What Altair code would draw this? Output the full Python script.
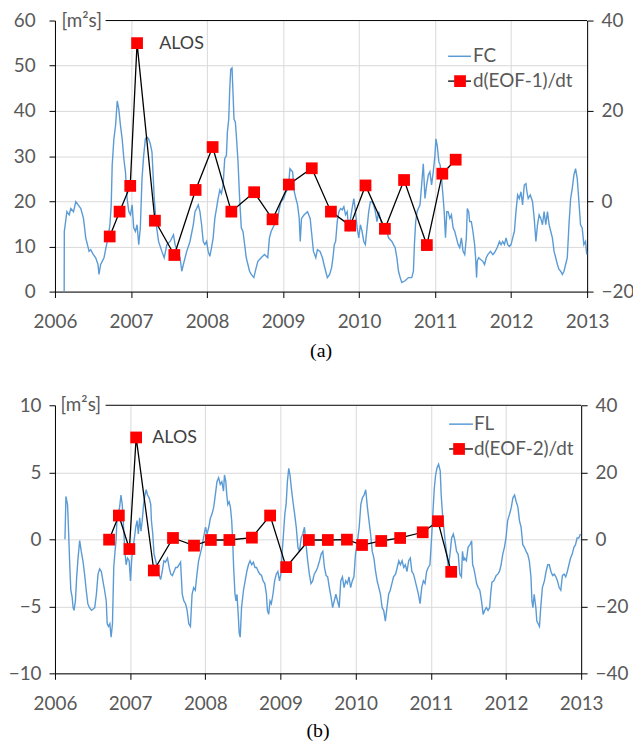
import altair as alt
import pandas as pd

# ---------------- data ----------------
year_ticks = [2006, 2007, 2008, 2009, 2010, 2011, 2012, 2013]

fc_year = [2006.121, 2006.123, 2006.157, 2006.187, 2006.209, 2006.244, 2006.274, 2006.305, 2006.340, 2006.375,
           2006.405, 2006.427, 2006.449, 2006.470, 2006.505, 2006.536, 2006.566, 2006.579, 2006.601, 2006.645,
           2006.679, 2006.697, 2006.723, 2006.740, 2006.753, 2006.775, 2006.797, 2006.819, 2006.840, 2006.862,
           2006.884, 2006.906, 2006.927, 2006.949, 2006.971, 2006.993, 2007.015, 2007.036, 2007.058, 2007.080,
           2007.102, 2007.123, 2007.145, 2007.167, 2007.189, 2007.210, 2007.232, 2007.254, 2007.276, 2007.289,
           2007.306, 2007.332, 2007.363, 2007.406, 2007.437, 2007.472, 2007.515, 2007.559, 2007.580, 2007.611,
           2007.646, 2007.668, 2007.689, 2007.733, 2007.776, 2007.820, 2007.842, 2007.863, 2007.885, 2007.907,
           2007.929, 2007.950, 2007.972, 2007.994, 2008.016, 2008.037, 2008.059, 2008.081, 2008.103, 2008.125,
           2008.146, 2008.168, 2008.190, 2008.212, 2008.233, 2008.255, 2008.268, 2008.286, 2008.299, 2008.312,
           2008.329, 2008.342, 2008.355, 2008.373, 2008.386, 2008.408, 2008.429, 2008.451, 2008.473, 2008.495,
           2008.516, 2008.538, 2008.560, 2008.582, 2008.616, 2008.647, 2008.669, 2008.712, 2008.756, 2008.799,
           2008.821, 2008.843, 2008.886, 2008.921, 2008.952, 2008.973, 2009.008, 2009.039, 2009.069, 2009.091,
           2009.126, 2009.148, 2009.169, 2009.191, 2009.213, 2009.226, 2009.243, 2009.278, 2009.322, 2009.357,
           2009.374, 2009.400, 2009.431, 2009.452, 2009.487, 2009.518, 2009.539, 2009.561, 2009.583, 2009.613,
           2009.639, 2009.657, 2009.674, 2009.692, 2009.713, 2009.735, 2009.757, 2009.779, 2009.800, 2009.822,
           2009.844, 2009.866, 2009.888, 2009.909, 2009.931, 2009.953, 2009.975, 2009.996, 2010.018, 2010.040,
           2010.062, 2010.083, 2010.105, 2010.127, 2010.149, 2010.170, 2010.192, 2010.214, 2010.236, 2010.258,
           2010.279, 2010.301, 2010.323, 2010.345, 2010.366, 2010.388, 2010.432, 2010.453, 2010.475, 2010.497,
           2010.519, 2010.541, 2010.562, 2010.606, 2010.649, 2010.693, 2010.715, 2010.728, 2010.745, 2010.763,
           2010.780, 2010.802, 2010.823, 2010.845, 2010.867, 2010.889, 2010.911, 2010.932, 2010.954, 2010.976,
           2010.998, 2011.011, 2011.028, 2011.050, 2011.067, 2011.085, 2011.107, 2011.120, 2011.137, 2011.154,
           2011.172, 2011.194, 2011.215, 2011.237, 2011.259, 2011.303, 2011.324, 2011.346, 2011.368, 2011.390,
           2011.411, 2011.424, 2011.442, 2011.455, 2011.477, 2011.498, 2011.520, 2011.533, 2011.546, 2011.555,
           2011.572, 2011.599, 2011.629, 2011.651, 2011.673, 2011.694, 2011.729, 2011.760, 2011.781, 2011.816,
           2011.847, 2011.868, 2011.890, 2011.912, 2011.934, 2011.956, 2011.977, 2011.999, 2012.021, 2012.043,
           2012.064, 2012.086, 2012.108, 2012.130, 2012.151, 2012.173, 2012.195, 2012.208, 2012.225, 2012.252,
           2012.282, 2012.304, 2012.326, 2012.347, 2012.369, 2012.391, 2012.413, 2012.434, 2012.456, 2012.478,
           2012.500, 2012.522, 2012.543, 2012.565, 2012.587, 2012.609, 2012.630, 2012.652, 2012.674, 2012.696,
           2012.717, 2012.739, 2012.761, 2012.783, 2012.804, 2012.826, 2012.848, 2012.870, 2012.892, 2012.913,
           2012.935, 2012.957, 2012.979, 2012.995]
fc_value = [0.0, 13.3, 17.7, 17.0, 18.4, 17.7, 19.9, 19.2, 18.4, 16.2,
            11.9, 10.4, 8.9, 9.3, 8.2, 7.5, 6.0, 3.8, 6.0, 7.5,
            10.4, 11.9, 14.8, 19.2, 28.0, 33.8, 36.7, 42.2, 40.4, 36.7,
            33.8, 29.4, 26.5, 20.6, 17.7, 17.0, 19.2, 14.1, 13.3, 14.8,
            10.4, 14.1, 25.0, 30.1, 33.8, 34.2, 33.8, 32.7, 30.9, 26.5,
            20.6, 14.8, 11.1, 8.9, 7.5, 10.4, 11.1, 12.6, 10.4, 8.9,
            7.5, 4.5, 6.0, 8.9, 11.1, 14.8, 17.7, 18.4, 19.2, 17.7,
            14.8, 11.1, 10.4, 11.1, 8.9, 7.8, 9.7, 11.9, 16.2, 18.4,
            20.6, 22.5, 21.7, 23.6, 29.4, 30.1, 35.3, 38.2, 44.8, 49.2,
            49.5, 44.0, 38.2, 37.5, 34.5, 28.7, 20.6, 14.1, 13.3, 10.4,
            7.5, 6.0, 4.5, 3.8, 3.1, 5.3, 6.7, 7.5, 8.2, 7.5,
            11.9, 13.3, 14.8, 15.5, 18.4, 19.9, 20.6, 22.1, 22.8, 27.2,
            26.5, 22.1, 20.6, 19.2, 16.2, 11.1, 16.2, 17.0, 17.7, 16.2,
            13.3, 8.9, 7.5, 9.3, 8.9, 7.5, 6.0, 4.5, 3.1, 3.8,
            5.3, 7.5, 10.4, 11.1, 15.5, 17.7, 18.4, 18.1, 18.8, 17.0,
            17.7, 13.3, 16.2, 18.4, 20.6, 17.7, 14.1, 11.9, 14.8, 13.3,
            11.1, 10.4, 14.1, 17.7, 19.9, 19.9, 19.2, 17.7, 15.5, 17.7,
            16.2, 14.8, 14.8, 14.1, 13.3, 11.9, 11.1, 10.4, 9.7, 7.5,
            4.5, 3.1, 2.0, 2.4, 3.1, 3.1, 4.5, 10.4, 15.5, 17.7,
            18.4, 19.2, 23.6, 28.3, 20.6, 23.6, 25.8, 26.5, 23.6, 26.5,
            30.1, 33.8, 32.3, 28.7, 28.0, 25.0, 20.6, 17.7, 11.9, 17.7,
            17.7, 16.2, 17.0, 14.1, 13.3, 10.4, 9.7, 11.9, 8.9, 8.2,
            11.9, 18.4, 17.7, 15.5, 15.5, 13.3, 10.4, 7.5, 3.1, 6.7,
            7.5, 7.1, 6.7, 6.0, 7.5, 8.2, 8.9, 8.2, 8.6, 9.7,
            11.1, 10.4, 11.1, 10.4, 11.9, 10.4, 10.0, 10.4, 11.9, 13.3,
            17.7, 21.4, 20.6, 22.1, 19.2, 23.6, 23.9, 22.1, 20.6, 21.4,
            19.9, 16.2, 11.1, 14.8, 17.0, 16.2, 14.8, 17.7, 14.8, 17.7,
            14.8, 13.3, 11.9, 8.9, 7.5, 6.0, 4.9, 4.5, 3.8, 4.5,
            6.0, 7.5, 14.8, 20.6, 22.8, 25.8, 27.2, 25.0, 19.9, 14.8,
            14.1, 10.4, 11.1, 8.2]

fl_year = [2006.133, 2006.146, 2006.167, 2006.176, 2006.198, 2006.211, 2006.228, 2006.241, 2006.254, 2006.272,
           2006.289, 2006.307, 2006.329, 2006.350, 2006.372, 2006.394, 2006.416, 2006.437, 2006.459, 2006.486,
           2006.508, 2006.529, 2006.551, 2006.573, 2006.595, 2006.617, 2006.638, 2006.660, 2006.682, 2006.695,
           2006.712, 2006.730, 2006.747, 2006.765, 2006.782, 2006.799, 2006.812, 2006.825, 2006.843, 2006.860,
           2006.878, 2006.895, 2006.913, 2006.930, 2006.947, 2006.965, 2006.987, 2007.005, 2007.022, 2007.039,
           2007.057, 2007.074, 2007.092, 2007.109, 2007.127, 2007.144, 2007.161, 2007.179, 2007.196, 2007.214,
           2007.231, 2007.253, 2007.274, 2007.283, 2007.301, 2007.318, 2007.340, 2007.362, 2007.383, 2007.405,
           2007.427, 2007.449, 2007.470, 2007.497, 2007.519, 2007.541, 2007.562, 2007.584, 2007.606, 2007.628,
           2007.650, 2007.671, 2007.693, 2007.715, 2007.737, 2007.758, 2007.780, 2007.802, 2007.824, 2007.845,
           2007.867, 2007.889, 2007.911, 2007.932, 2007.954, 2007.976, 2008.003, 2008.024, 2008.046, 2008.068,
           2008.090, 2008.112, 2008.133, 2008.155, 2008.177, 2008.199, 2008.220, 2008.242, 2008.255, 2008.273,
           2008.286, 2008.299, 2008.316, 2008.334, 2008.351, 2008.364, 2008.377, 2008.395, 2008.408, 2008.421,
           2008.438, 2008.451, 2008.464, 2008.482, 2008.508, 2008.530, 2008.552, 2008.574, 2008.595, 2008.617,
           2008.639, 2008.661, 2008.682, 2008.704, 2008.726, 2008.748, 2008.769, 2008.791, 2008.813, 2008.826,
           2008.843, 2008.861, 2008.878, 2008.900, 2008.922, 2008.944, 2008.965, 2008.987, 2009.005, 2009.023,
           2009.040, 2009.058, 2009.075, 2009.092, 2009.110, 2009.127, 2009.145, 2009.166, 2009.188, 2009.210,
           2009.232, 2009.253, 2009.275, 2009.297, 2009.319, 2009.340, 2009.362, 2009.384, 2009.406, 2009.428,
           2009.449, 2009.471, 2009.493, 2009.520, 2009.541, 2009.563, 2009.585, 2009.607, 2009.628, 2009.650,
           2009.672, 2009.694, 2009.715, 2009.737, 2009.759, 2009.781, 2009.802, 2009.824, 2009.846, 2009.868,
           2009.890, 2009.911, 2009.933, 2009.955, 2009.977, 2009.998, 2010.025, 2010.047, 2010.069, 2010.090,
           2010.112, 2010.134, 2010.156, 2010.177, 2010.199, 2010.221, 2010.243, 2010.265, 2010.286, 2010.308,
           2010.330, 2010.352, 2010.373, 2010.395, 2010.417, 2010.439, 2010.460, 2010.482, 2010.504, 2010.531,
           2010.553, 2010.574, 2010.596, 2010.618, 2010.640, 2010.661, 2010.683, 2010.705, 2010.727, 2010.748,
           2010.770, 2010.792, 2010.814, 2010.835, 2010.857, 2010.879, 2010.901, 2010.923, 2010.944, 2010.966,
           2010.988, 2011.010, 2011.029, 2011.046, 2011.064, 2011.081, 2011.103, 2011.125, 2011.138, 2011.155,
           2011.172, 2011.190, 2011.212, 2011.233, 2011.255, 2011.277, 2011.299, 2011.320, 2011.342, 2011.364,
           2011.386, 2011.407, 2011.421, 2011.438, 2011.451, 2011.473, 2011.495, 2011.521, 2011.543, 2011.556,
           2011.569, 2011.587, 2011.609, 2011.630, 2011.652, 2011.674, 2011.696, 2011.717, 2011.739, 2011.761,
           2011.783, 2011.796, 2011.813, 2011.839, 2011.870, 2011.891, 2011.913, 2011.935, 2011.957, 2011.979,
           2012.000, 2012.022, 2012.049, 2012.071, 2012.092, 2012.114, 2012.136, 2012.158, 2012.179, 2012.201,
           2012.223, 2012.245, 2012.267, 2012.288, 2012.310, 2012.332, 2012.345, 2012.358, 2012.375, 2012.397,
           2012.410, 2012.428, 2012.445, 2012.462, 2012.484, 2012.511, 2012.533, 2012.555, 2012.576, 2012.598,
           2012.620, 2012.642, 2012.663, 2012.685, 2012.707, 2012.729, 2012.750, 2012.772, 2012.794, 2012.816,
           2012.837, 2012.859, 2012.881, 2012.903, 2012.925, 2012.946, 2012.968, 2012.990]
fl_value = [0.0, 3.2, 2.6, 1.4, -2.1, -3.8, -4.3, -5.1, -5.3, -4.6,
            -2.8, -1.4, -0.1, -0.9, -1.6, -2.6, -3.8, -4.8, -5.1, -5.3,
            -5.2, -5.1, -4.1, -2.6, -2.2, -2.4, -3.1, -3.8, -4.6, -6.3,
            -6.5, -6.3, -7.3, -6.3, -2.1, -0.9, -0.1, 1.4, 1.9, 2.4,
            3.3, 2.6, 0.9, -0.9, -1.9, -1.4, -1.6, -3.1, -1.4, -0.6,
            0.1, 0.9, 1.4, 0.4, 1.6, 0.6, 1.4, 2.6, 3.3, 3.7,
            3.3, 3.1, 2.6, 1.4, 0.4, -1.1, -1.6, -2.1, -2.6, -3.0,
            -2.4, -1.6, -1.7, -1.4, -2.1, -2.6, -2.7, -2.4, -2.1, -2.1,
            -1.9, -1.7, -4.1, -4.6, -4.8, -5.3, -6.3, -6.5, -4.1, -3.6,
            -3.8, -2.6, -1.6, -1.1, -0.6, 0.1, 0.9, 0.4, 0.9, 1.6,
            1.9, 2.4, 3.3, 4.3, 4.6, 4.1, 4.3, 3.6, 4.8, 4.3,
            3.3, 2.6, 2.8, 2.4, 1.4, -0.1, -2.1, -4.1, -4.6, -4.1,
            -5.6, -7.0, -7.3, -5.1, -3.8, -3.1, -2.4, -1.9, -1.6, -1.9,
            -1.7, -2.1, -2.1, -2.4, -2.6, -2.7, -3.1, -3.3, -4.1, -5.3,
            -5.6, -4.6, -4.8, -4.1, -3.1, -2.6, -2.4, -3.1, -2.6, -0.9,
            0.4, 1.9, 2.6, 4.3, 5.3, 4.8, 3.8, 2.8, 1.9, 0.9,
            -0.6, -0.9, 0.1, 0.4, 0.9, -0.4, -1.6, -2.6, -3.3, -3.1,
            -2.6, -2.4, -2.1, -1.6, -1.1, -0.9, -2.1, -2.7, -2.8, -3.6,
            -4.3, -5.1, -4.6, -4.1, -4.6, -5.1, -3.1, -2.8, -3.6, -3.1,
            -3.3, -2.8, -3.6, -3.1, -2.8, -1.1, -0.1, 0.9, 2.6, 3.1,
            3.3, 3.7, 2.4, 1.4, 0.4, -0.9, -1.4, -2.4, -3.1, -3.6,
            -4.1, -5.1, -5.3, -6.1, -5.1, -4.1, -3.8, -3.3, -2.8, -2.6,
            -2.1, -1.6, -1.9, -1.6, -2.1, -1.9, -2.4, -1.6, -1.4, -2.4,
            -2.6, -3.1, -3.6, -4.1, -4.8, -3.6, -3.1, -3.3, -2.4, -2.1,
            -1.9, 0.1, 2.1, 3.8, 4.8, 5.3, 5.6, 5.1, 3.3, 1.9,
            0.9, -0.1, -1.1, -2.1, -1.1, 0.1, 0.4, -0.1, -0.9, -1.1,
            -2.6, -2.8, -0.9, -1.6, -1.4, -1.6, -0.6, -0.4, -0.1, -1.9,
            -2.1, -2.6, -3.3, -3.6, -3.8, -4.6, -5.6, -5.3, -5.1, -5.3,
            -5.1, -4.1, -3.2, -3.1, -2.7, -2.6, -2.4, -1.9, -1.1, -0.6,
            0.1, 1.4, 1.9, 2.4, 3.1, 3.3, 2.8, 2.4, 1.4, 0.9,
            -0.4, -0.6, -0.9, -1.1, -1.6, -2.8, -4.6, -5.1, -4.1, -5.1,
            -6.1, -6.3, -6.5, -5.1, -3.6, -3.1, -2.4, -1.9, -1.9, -2.4,
            -2.7, -2.6, -2.8, -3.1, -3.6, -3.8, -2.7, -2.6, -2.8, -2.4,
            -1.9, -1.4, -1.1, -0.6, -0.4, 0.1, 0.1, 0.4]

alos_year = [2006.72, 2006.85, 2006.99, 2007.08, 2007.315, 2007.57, 2007.85, 2008.074, 2008.32, 2008.62,
             2008.862, 2009.076, 2009.378, 2009.63, 2009.884, 2010.085, 2010.34, 2010.592, 2010.892, 2011.095,
             2011.271]
eof1_rate = [-7.8, -2.3, 3.4, 35.0, -4.3, -11.9, 2.5, 12.0, -2.3, 2.0,
             -4.0, 3.7, 7.3, -2.3, -5.4, 3.5, -6.1, 4.7, -9.7, 6.1, 9.2]
eof2_rate = [-0.1, 7.1, -2.9, 30.4, -9.3, 0.4, -1.9, -0.2, -0.2, 0.5,
             7.1, -8.3, -0.2, -0.2, -0.1, -1.7, -0.5, 0.4, 2.1, 5.4, -9.7]

# ---------------- styling ----------------
FONT = "Lato"
LABEL_COLOR = "#595959"
GRID_COLOR = "#d9d9d9"
BLUE = "#5B9BD5"
RED = "#FF0000"
FS = 19


def panel(years, values, rates, left_dom, left_vals, right_dom, right_vals,
          width, height, line_label, rate_label, caption, left_pad, leg):
    line_df = pd.DataFrame({"year": years, "value": values, "i": list(range(len(years)))})
    rate_df = pd.DataFrame({"year": alos_year, "rate": rates})
    xscale = alt.Scale(domain=[2006, 2013], nice=False, zero=False)
    xaxis = alt.Axis(values=year_ticks, format="d", grid=True, gridColor=GRID_COLOR,
                     labelPadding=15, tickSize=6, labelFlush=False)
    x_enc = alt.X("year:Q", scale=xscale, axis=xaxis, title=None)

    top = left_dom[1]
    blue = alt.Chart(line_df).mark_line(color=BLUE, strokeWidth=1.4).encode(
        x=x_enc,
        y=alt.Y("value:Q", scale=alt.Scale(domain=left_dom, nice=False, zero=False),
                axis=alt.Axis(orient="left", values=left_vals, grid=True, gridColor=GRID_COLOR,
                              gridOpacity={"condition": {"test": f"datum.value == {top}", "value": 0},
                                           "value": 1},
                              labelPadding=left_pad, tickSize=6, labelFlush=False),
                title=None),
        order="i:Q",
    )
    ry = alt.Y("rate:Q", scale=alt.Scale(domain=right_dom, nice=False, zero=False),
               axis=alt.Axis(orient="right", values=right_vals, grid=False, labelPadding=8,
                             tickSize=6, labelFlush=False),
               title=None)
    rate_line = alt.Chart(rate_df).mark_line(color="black", strokeWidth=1.3).encode(x=x_enc, y=ry)
    rate_pts = alt.Chart(rate_df).mark_square(color=RED, size=140, opacity=1).encode(x=x_enc, y=ry)
    rates_layer = alt.layer(rate_line, rate_pts)

    one = pd.DataFrame({"k": [0]})
    lab = lambda s: pd.DataFrame({"t": [s]})
    extras = [
        # invisible layout anchors (fix the horizontal extent of the panel)
        alt.Chart(one).mark_rule(opacity=0).encode(
            x=alt.value(-leg["anchor_l"]), x2=alt.value(-leg["anchor_l"] + 1), y=alt.value(height / 2)),
        alt.Chart(one).mark_rule(opacity=0).encode(
            x=alt.value(width + leg["anchor_r"] - 1), x2=alt.value(width + leg["anchor_r"]),
            y=alt.value(height / 2)),
        # top frame line (interrupted by the unit label)
        alt.Chart(one).mark_rule(color="black", strokeWidth=1).encode(
            x=alt.value(leg["top_x0"]), x2=alt.value(width), y=alt.value(0)),
        alt.Chart(lab("[m²s]")).mark_text(align="center", baseline="middle", font=FONT,
                                           fontSize=FS, color=LABEL_COLOR).encode(
            x=alt.value(leg["unit_x"]), y=alt.value(0), text="t:N"),
        alt.Chart(lab("ALOS")).mark_text(align="left", baseline="middle", font=FONT,
                                          fontSize=18, color="#404040").encode(
            x=alt.value(leg["alos_x"]), y=alt.value(leg["alos_y"]), text="t:N"),
        # legend
        alt.Chart(one).mark_rule(color=BLUE, strokeWidth=1.5).encode(
            x=alt.value(leg["lx0"]), x2=alt.value(leg["lx1"]), y=alt.value(leg["y1"])),
        alt.Chart(one).mark_rule(color="black", strokeWidth=1.3).encode(
            x=alt.value(leg["lx0"]), x2=alt.value(leg["lx1"]), y=alt.value(leg["y2"])),
        alt.Chart(one).mark_square(color=RED, size=140, opacity=1).encode(
            x=alt.value(leg["sq"]), y=alt.value(leg["y2"])),
        alt.Chart(lab(line_label)).mark_text(align="left", baseline="middle", font=FONT,
                                              fontSize=FS, color=LABEL_COLOR).encode(
            x=alt.value(leg["tx"]), y=alt.value(leg["y1"]), text="t:N"),
        alt.Chart(lab(rate_label)).mark_text(align="left", baseline="middle", font=FONT,
                                              fontSize=FS, color=LABEL_COLOR).encode(
            x=alt.value(leg["tx"]), y=alt.value(leg["y2"]), text="t:N"),
    ]
    props = dict(width=width, height=height)
    if leg.get("cap_y") is None:
        props["title"] = alt.TitleParams(caption, orient="bottom", anchor="middle",
                                         offset=leg["cap_offset"], font="Liberation Serif",
                                         fontSize=20, fontWeight="normal", color="black")
    else:
        extras.append(
            alt.Chart(lab(caption)).mark_text(align="center", baseline="middle",
                                              font="Liberation Serif", fontSize=20,
                                              color="black").encode(
                x=alt.value(width / 2), y=alt.value(height + leg["cap_y"]), text="t:N"))
    return alt.layer(blue, rates_layer, *extras).resolve_scale(y="independent").properties(**props)


panel_a = panel(fc_year, fc_value, eof1_rate, [0, 60], [0, 10, 20, 30, 40, 50, 60],
                [-20, 40], [-20, 0, 20, 40], 536, 273, "FC", "d(EOF-1)/dt", "(a)", 14,
                dict(anchor_l=70, anchor_r=70, cap_offset=10, top_x0=51, unit_x=27,
                     alos_x=105, alos_y=24, lx0=396, lx1=419, y1=36, y2=61, sq=408, tx=421))
panel_b = panel(fl_year, fl_value, eof2_rate, [-10, 10], [-10, -5, 0, 5, 10],
                [-40, 40], [-40, -20, 0, 20, 40], 530, 270, "FL", "d(EOF-2)/dt", "(b)", 8,
                dict(anchor_l=72.7, anchor_r=72.8, cap_y=58, top_x0=51, unit_x=26,
                     alos_x=98, alos_y=33, lx0=397, lx1=421, y1=19, y2=44, sq=407, tx=422))


def build(pad):
    return alt.vconcat(panel_a, panel_b, spacing=35.5).properties(
        padding=pad,
    ).configure_view(stroke=None).configure_axis(
        labelFont=FONT, labelFontSize=FS, labelColor=LABEL_COLOR,
        domainColor="black", domainWidth=1, tickColor="black", tickWidth=1,
    )


try:
    chart = build({"left": -25.7, "top": 1, "right": -23.8, "bottom": -3})
    chart.save("out.html", embed_options={"renderer": "svg", "actions": False})
except Exception:
    chart = build({"left": 0, "top": 0, "right": 0, "bottom": 0})
    chart.save("out.html", embed_options={"renderer": "svg", "actions": False})
